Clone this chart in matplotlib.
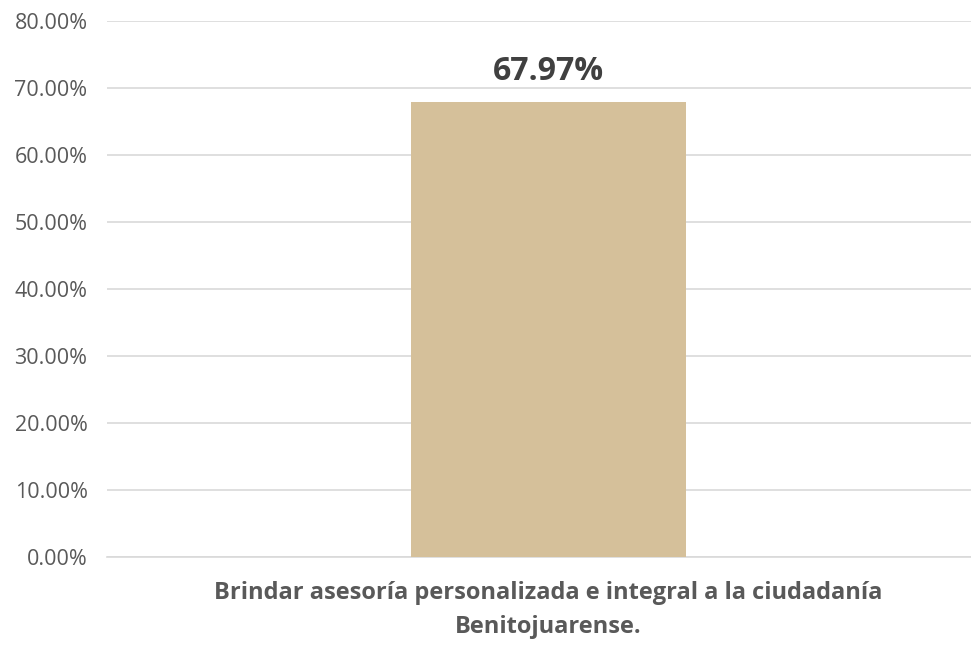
import matplotlib.pyplot as plt
from matplotlib.ticker import PercentFormatter

categories = ['Brindar asesoría personalizada e integral a la ciudadanía\nBenitojuarense.']
values = [67.97]
y_ticks = [0, 10, 20, 30, 40, 50, 60, 70, 80]

plt.rcParams['font.family'] = ['Open Sans', 'DejaVu Sans']

fig = plt.figure(figsize=(9.71, 6.45), dpi=100)
ax = fig.add_axes([107 / 971, 88 / 645, 864 / 971, 536 / 645])

x = list(range(len(categories)))
bars = ax.bar(x, values, width=0.32, color='#D5C09A', zorder=3)
for b, v in zip(bars, values):
    ax.text(b.get_x() + b.get_width() / 2, v + 2.0, f'{v:.2f}%', ha='center', va='bottom',
            fontsize=23, fontweight='bold', color='#404040')

ax.set_xlim(-0.512, 0.49)
ax.set_ylim(0, 80)
ax.set_yticks(y_ticks)
ax.yaxis.set_major_formatter(PercentFormatter(decimals=2))
ax.set_xticks(x)
ax.set_xticklabels(categories, fontsize=17, fontweight='bold', color='#595959', linespacing=1.6)
ax.tick_params(axis='y', labelsize=15.5, labelcolor='#595959', length=0, pad=14)
ax.tick_params(axis='x', length=0, pad=17)
ax.grid(axis='y', color='#D9D9D9', linewidth=1.2, zorder=0)
for s in ['top', 'right', 'left']:
    ax.spines[s].set_visible(False)
ax.spines['bottom'].set_color('#D9D9D9')
ax.spines['bottom'].set_linewidth(1.2)

plt.savefig('out.png', dpi=100)
